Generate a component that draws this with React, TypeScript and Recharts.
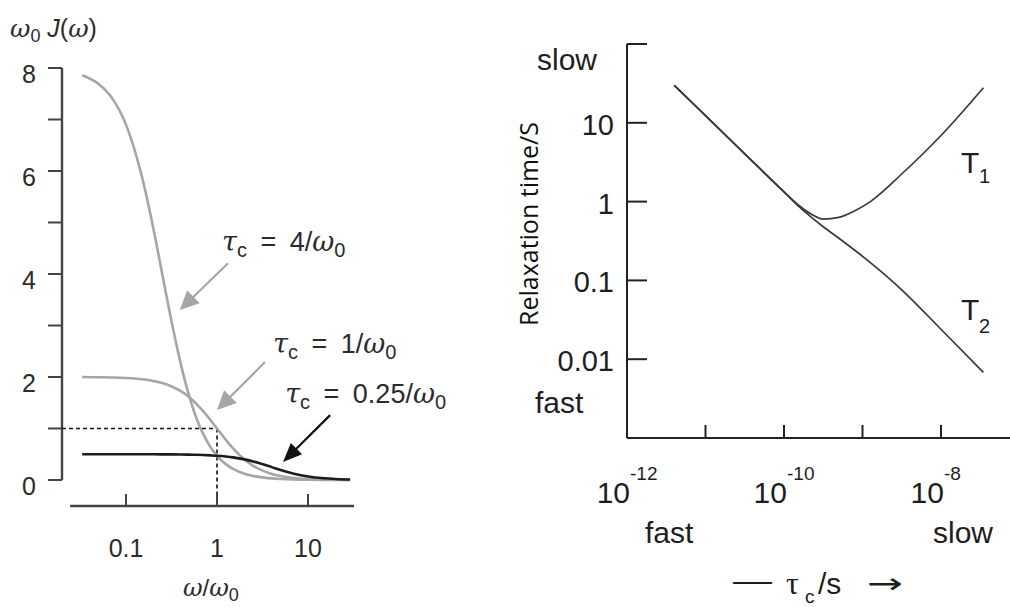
import { Line, LineChart, ReferenceLine, XAxis, YAxis } from 'recharts'

// spectral density curves, omega / omega0 on a log axis
const omegaRatio = [0.033, 0.05, 0.07, 0.1, 0.15, 0.2, 0.25, 0.3, 0.4, 0.5, 0.6, 0.7, 0.85, 1, 1.25, 1.5, 2, 2.5, 3, 4, 5, 7, 10, 15, 20, 29]
const jTau4 = [7.86, 7.69, 7.42, 6.9, 5.88, 4.88, 4.0, 3.28, 2.25, 1.6, 1.18, 0.905, 0.637, 0.47, 0.308, 0.216, 0.123, 0.079, 0.055, 0.031, 0.02, 0.01, 0.005, 0.002, 0.001, 0.0006]
const jTau1 = [2.0, 1.995, 1.99, 1.98, 1.956, 1.923, 1.882, 1.835, 1.724, 1.6, 1.47, 1.342, 1.161, 1.0, 0.78, 0.615, 0.4, 0.276, 0.2, 0.118, 0.077, 0.04, 0.02, 0.009, 0.005, 0.002]
const jTau025 = [0.5, 0.5, 0.5, 0.5, 0.5, 0.499, 0.498, 0.497, 0.495, 0.492, 0.489, 0.485, 0.478, 0.471, 0.456, 0.439, 0.4, 0.36, 0.32, 0.25, 0.195, 0.123, 0.069, 0.033, 0.019, 0.009]
const jTicksY = [0, 1, 2, 3, 4, 5, 6, 7, 8]
const jTicksX = [0.1, 1, 10]

// relaxation times against correlation time
const tauC = [4e-12, 1e-11, 3.16e-11, 1e-10, 1.58e-10, 2.24e-10, 3.16e-10, 5e-10, 7.9e-10, 1.26e-9, 3.16e-9, 1e-8, 3.47e-8]
const t1 = [29.9, 12.3, 4.04, 1.33, 0.88, 0.69, 0.6, 0.63, 0.76, 1.0, 2.24, 6.9, 27.9]
const t2 = [29.9, 12.3, 4.04, 1.33, 0.85, 0.63, 0.48, 0.343, 0.243, 0.168, 0.076, 0.024, 0.0068]
const relaxTicksY = [0.01, 0.1, 1, 10, 100]
const relaxTicksX = [1e-12, 1e-11, 1e-10, 1e-9, 1e-8]

// callout arrows: [tail, tip] in data units
const arrowTau4 = [{ x: 1.32, y: 4.21 }, { x: 0.39, y: 3.3 }]
const arrowTau1 = [{ x: 3.37, y: 2.29 }, { x: 1.0, y: 1.36 }]
const arrowTau025 = [{ x: 17.5, y: 1.26 }, { x: 5.31, y: 0.35 }]

const J_X_DOMAIN = [0.0198, 32]
const J_Y_DOMAIN = [-0.505, 8]
const R_X_DOMAIN = [1e-12, 7.57e-8]
const R_Y_DOMAIN = [1e-3, 100]

const SANS = '"Liberation Sans", Arial, sans-serif'
const MATH = '"DejaVu Serif", serif'
const TEXT = '#2b2b2b'
const GRAY = '#a6a6a6'

const jData = omegaRatio.map((w, i) => ({ w, a: jTau4[i], b: jTau1[i], c: jTau025[i] }))
const rData = tauC.map((t, i) => ({ t, t1: t1[i], t2: t2[i] }))

const JYTick = ({ x, y, payload }: any) => {
  if (payload.value % 2 !== 0) return <g />
  return (
    <text x={x} y={y + 6} textAnchor="end" dominantBaseline="central" fontFamily={SANS} fontSize={25} fill={TEXT}>
      {payload.value}
    </text>
  )
}

const JXTick = ({ x, y, payload }: any) => (
  <g>
    <line x1={x} y1={y} x2={x} y2={y - 12} stroke="#444" strokeWidth={2} />
    <text x={x} y={y + 51} textAnchor="middle" fontFamily={SANS} fontSize={25} fill={TEXT}>
      {String(payload.value)}
    </text>
  </g>
)

const yLabel = (v: number) => (v >= 1 ? String(v) : v.toFixed(v < 0.1 ? 2 : 1))

const RYTick = ({ x, y, payload }: any) => (
  <g>
    <line x1={x} y1={y} x2={x + 20} y2={y} stroke="#222" strokeWidth={2} />
    {payload.value < 100 && (
      <text x={x - 13} y={y + 2} textAnchor="end" dominantBaseline="central" fontFamily={SANS} fontSize={29} fill="#1e1e1e">
        {yLabel(payload.value)}
      </text>
    )}
  </g>
)

const RXTick = ({ x, y, payload }: any) => {
  const exp = Math.round(Math.log10(payload.value))
  return (
    <g>
      {exp !== -12 && <line x1={x} y1={y} x2={x} y2={y - 13} stroke="#222" strokeWidth={2} />}
      {exp % 2 === 0 && (
        <text fontFamily={SANS} fill="#1e1e1e">
          <tspan x={x + 3} y={y + 65} textAnchor="end" fontSize={30}>10</tspan>
          <tspan x={x + 3} y={y + 42} fontSize={19}>{`-${-exp}`}</tspan>
        </text>
      )}
    </g>
  )
}

// arrow plus "τc = n/ω0" label anchored at the arrow tail
const callout = (color: string, value: string, dx: number, dy: number, half: number) => (props: any) => {
  const { x1, y1, x2, y2 } = props
  const len = Math.hypot(x2 - x1, y2 - y1)
  const ux = (x2 - x1) / len
  const uy = (y2 - y1) / len
  const head = 19
  const bx = x2 - ux * head
  const by = y2 - uy * head
  const px = -uy * half
  const py = ux * half
  return (
    <g>
      <line x1={x1} y1={y1} x2={bx + ux * 2} y2={by + uy * 2} stroke={color} strokeWidth={2.2} />
      <polygon points={`${x2},${y2} ${bx + px},${by + py} ${bx - px},${by - py}`} fill={color} />
      <text x={x1 + dx} y={y1 + dy} fontFamily={SANS} fontSize={27} fill={TEXT}>
        <tspan fontFamily={MATH} fontStyle="italic">τ</tspan>
        <tspan fontSize={20} dy={6}>c</tspan>
        <tspan dy={-6} xmlSpace="preserve">{`\u2002=\u2002${value}/`}</tspan>
        <tspan fontFamily={MATH} fontStyle="italic">ω</tspan>
        <tspan fontSize={20} dy={6}>0</tspan>
      </text>
    </g>
  )
}

function SpectralDensity() {
  return (
    <LineChart width={480} height={607} data={jData} margin={{ top: 68, right: 126, bottom: 41, left: 12 }}>
      <XAxis
        dataKey="w"
        type="number"
        scale="log"
        domain={J_X_DOMAIN}
        ticks={jTicksX}
        allowDataOverflow
        axisLine={false}
        tickLine={false}
        tickSize={0}
        tickMargin={0}
        height={60}
        tick={JXTick}
        interval={0}
      />
      <YAxis
        type="number"
        domain={J_Y_DOMAIN}
        ticks={jTicksY}
        allowDataOverflow
        width={50}
        axisLine={false}
        tickLine={{ stroke: '#444', strokeWidth: 2 }}
        tickSize={14}
        tickMargin={12}
        tick={JYTick}
        interval={0}
      />
      <ReferenceLine
        segment={[{ x: J_X_DOMAIN[0], y: 0 }, { x: J_X_DOMAIN[0], y: 8 }]}
        stroke="#444"
        strokeWidth={2.4}
        ifOverflow="visible"
      />
      <ReferenceLine
        segment={[{ x: 0.0243, y: J_Y_DOMAIN[0] }, { x: J_X_DOMAIN[1], y: J_Y_DOMAIN[0] }]}
        stroke="#444"
        strokeWidth={2.4}
        ifOverflow="visible"
      />
      <ReferenceLine
        segment={[{ x: J_X_DOMAIN[0], y: 1 }, { x: 1, y: 1 }]}
        stroke="#111"
        strokeWidth={1.6}
        strokeDasharray="4 3"
        ifOverflow="visible"
      />
      <ReferenceLine
        segment={[{ x: 1, y: 1 }, { x: 1, y: J_Y_DOMAIN[0] }]}
        stroke="#111"
        strokeWidth={1.6}
        strokeDasharray="4 3"
        ifOverflow="visible"
      />
      <Line dataKey="a" type="monotone" stroke={GRAY} strokeWidth={2.6} dot={false} isAnimationActive={false} />
      <Line dataKey="b" type="monotone" stroke={GRAY} strokeWidth={2.6} dot={false} isAnimationActive={false} />
      <Line dataKey="c" type="monotone" stroke="#1c1c1c" strokeWidth={2.6} dot={false} isAnimationActive={false} />
      <ReferenceLine segment={arrowTau4} ifOverflow="visible" shape={callout(GRAY, '4', -6, -12, 9)} />
      <ReferenceLine segment={arrowTau1} ifOverflow="visible" shape={callout(GRAY, '1', 8, -9, 9)} />
      <ReferenceLine segment={arrowTau025} ifOverflow="visible" shape={callout('#111', '0.25', -45, -12, 8)} />
    </LineChart>
  )
}

function RelaxationTimes() {
  return (
    <LineChart width={510} height={607} data={rData} margin={{ top: 44, right: 0, bottom: 109, left: 27 }}>
      <XAxis
        dataKey="t"
        type="number"
        scale="log"
        domain={R_X_DOMAIN}
        ticks={relaxTicksX}
        allowDataOverflow
        axisLine={{ stroke: '#222', strokeWidth: 2 }}
        tickLine={false}
        tickSize={0}
        tickMargin={0}
        height={60}
        tick={RXTick}
        interval={0}
      />
      <YAxis
        type="number"
        scale="log"
        domain={R_Y_DOMAIN}
        ticks={relaxTicksY}
        allowDataOverflow
        width={100}
        axisLine={{ stroke: '#222', strokeWidth: 2 }}
        tickLine={false}
        tickSize={0}
        tickMargin={0}
        tick={RYTick}
        interval={0}
      />
      <Line dataKey="t1" type="monotone" stroke="#3a3a3a" strokeWidth={1.7} dot={false} isAnimationActive={false} />
      <Line dataKey="t2" type="monotone" stroke="#3a3a3a" strokeWidth={1.7} dot={false} isAnimationActive={false} />
    </LineChart>
  )
}

function Labels() {
  return (
    <svg width={1010} height={607} style={{ position: 'absolute', left: 0, top: 0, pointerEvents: 'none' }}>
      <text x={10} y={37} fontFamily={SANS} fontSize={25} fill={TEXT}>
        <tspan fontFamily={MATH} fontStyle="italic">ω</tspan>
        <tspan fontSize={18} dy={5}>0</tspan>
        <tspan dy={-5} fontStyle="italic" xmlSpace="preserve">{' J'}</tspan>
        <tspan>(</tspan>
        <tspan fontFamily={MATH} fontStyle="italic">ω</tspan>
        <tspan>)</tspan>
      </text>
      <text x={183} y={596} fontFamily={SANS} fontSize={24} fill={TEXT}>
        <tspan fontFamily={MATH} fontStyle="italic">ω</tspan>
        <tspan>/</tspan>
        <tspan fontFamily={MATH} fontStyle="italic">ω</tspan>
        <tspan fontSize={18} dy={5}>0</tspan>
      </text>

      <text x={537} y={70} fontFamily={SANS} fontSize={30} fill="#1e1e1e">slow</text>
      <text x={535} y={413} fontFamily={SANS} fontSize={30} fill="#1e1e1e">fast</text>
      <text
        transform="translate(538, 224) rotate(-90)"
        textAnchor="middle"
        fontFamily='"Open Sans", sans-serif'
        fontSize={25}
        fill="#111"
      >
        Relaxation time/S
      </text>
      <text x={645} y={543} fontFamily={SANS} fontSize={30} fill="#1e1e1e">fast</text>
      <text x={933} y={543} fontFamily={SANS} fontSize={30} fill="#1e1e1e">slow</text>

      <text x={733} y={591} fontFamily={SANS} fontSize={30} fill="#1e1e1e" textLength={39} lengthAdjust="spacingAndGlyphs">—</text>
      <text x={786} y={594} fontFamily='"Liberation Serif", serif' fontSize={32} fill="#1e1e1e">τ</text>
      <text x={805} y={603} fontFamily={SANS} fontSize={19} fill="#1e1e1e">c</text>
      <text x={818} y={594} fontFamily={SANS} fontSize={30} fill="#1e1e1e">/s</text>
      <text x={867} y={593} fontFamily='"DejaVu Sans", sans-serif' fontSize={28} fill="#1e1e1e" textLength={36} lengthAdjust="spacingAndGlyphs">→</text>

      <text x={961} y={173} fontFamily={SANS} fontSize={30} fill="#1e1e1e">T</text>
      <text x={979} y={183} fontFamily={SANS} fontSize={20} fill="#1e1e1e">1</text>
      <text x={961} y={320} fontFamily={SANS} fontSize={30} fill="#1e1e1e">T</text>
      <text x={979} y={333} fontFamily={SANS} fontSize={20} fill="#1e1e1e">2</text>
    </svg>
  )
}

export default function App() {
  return (
    <div style={{ position: 'fixed', left: 0, top: 0, width: 1010, height: 607, background: '#fff', overflow: 'hidden' }}>
      <div style={{ position: 'absolute', left: 0, top: 0 }}>
        <SpectralDensity />
      </div>
      <div style={{ position: 'absolute', left: 500, top: 0 }}>
        <RelaxationTimes />
      </div>
      <Labels />
    </div>
  )
}
